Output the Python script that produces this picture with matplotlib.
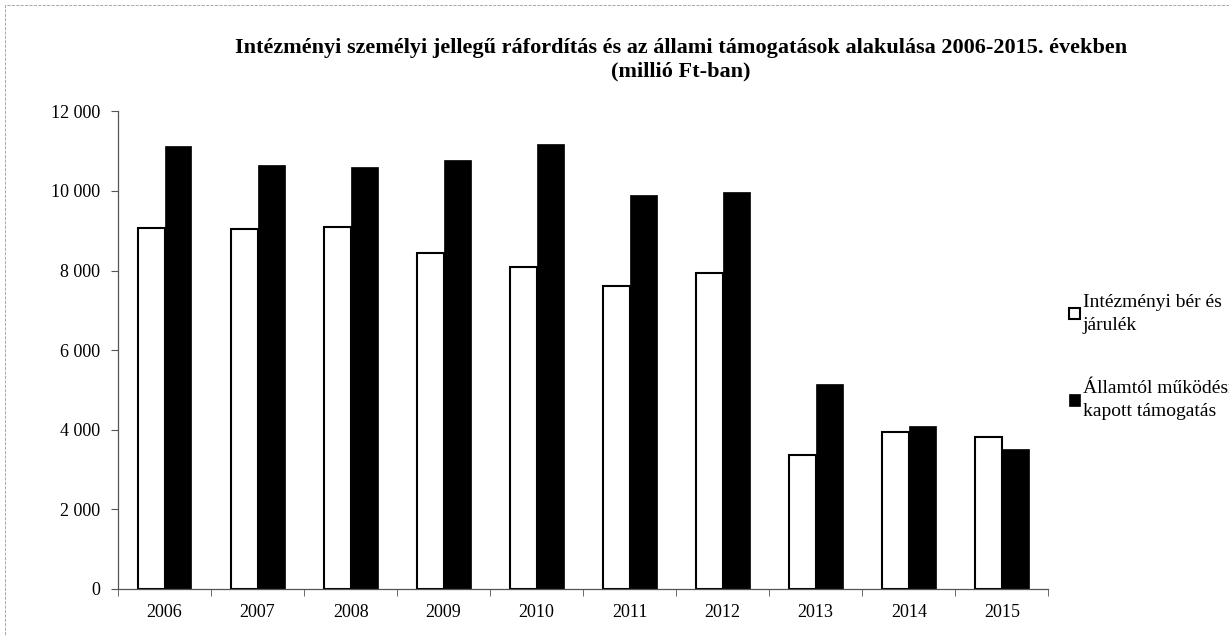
import numpy as np
import matplotlib.pyplot as plt
from matplotlib.patches import Rectangle
from matplotlib.ticker import FuncFormatter

plt.rcParams['font.family'] = ['Liberation Serif', 'DejaVu Serif']

# adatok
evek = ['2006', '2007', '2008', '2009', '2010', '2011', '2012', '2013', '2014', '2015']
ber_jarulek = [9080, 9040, 9090, 8440, 8080, 7610, 7930, 3370, 3950, 3820]
allami_tamogatas = [11120, 10650, 10600, 10770, 11170, 9890, 9970, 5140, 4100, 3510]

fig = plt.figure(figsize=(12.29, 6.36), dpi=100)
ax = fig.add_axes([0.096, 0.074, 0.757, 0.751])

x = np.arange(len(evek))
w = 0.29
ax.bar(x - w/2, ber_jarulek, width=w, color='white', edgecolor='black', linewidth=1.5,
       label='Intézményi bér és\njárulék')
ax.bar(x + w/2, allami_tamogatas, width=w, color='black', edgecolor='black', linewidth=0.5,
       label='Államtól működésre\nkapott támogatás')

ax.set_xlim(-0.5, len(evek) - 0.5)
ax.set_ylim(0, 12000)
ax.set_yticks(range(0, 12001, 2000))
ax.yaxis.set_major_formatter(FuncFormatter(lambda v, p: f'{int(v):,}'.replace(',', ' ')))
ax.set_xticks(x)
ax.set_xticklabels(evek)
ax.set_xticks(np.arange(-0.5, len(evek), 1), minor=True)
ax.tick_params(axis='x', which='major', length=0, pad=11, labelsize=13)
ax.tick_params(axis='x', which='minor', length=5, direction='out', color='#555555')
ax.tick_params(axis='y', length=5, direction='out', color='#555555', labelsize=13, pad=8)

for s in ['top', 'right']:
    ax.spines[s].set_visible(False)
for s in ['left', 'bottom']:
    ax.spines[s].set_color('#555555')
    ax.spines[s].set_linewidth(0.9)

fig.text(0.554, 0.906, 'Intézményi személyi jellegű ráfordítás és az állami támogatások alakulása 2006-2015. években\n(millió Ft-ban)',
         ha='center', va='center', fontsize=16, fontweight='bold', linespacing=1.25)

leg = ax.legend(loc='upper left', bbox_to_anchor=(0.870, 0.538), bbox_transform=fig.transFigure,
                frameon=False, fontsize=14, borderpad=0, borderaxespad=0,
                handlelength=0.55, handleheight=0.55, handletextpad=0.15, labelspacing=2.4)
for t in leg.get_texts():
    t.set_linespacing(1.45)

# a beszkennelt kép kerete
fig.patches.append(Rectangle((0.004, 0.0), 0.996, 0.992, transform=fig.transFigure,
                             fill=False, edgecolor='#999999', linewidth=0.6, linestyle='--'))

plt.savefig('out.png', dpi=100)
